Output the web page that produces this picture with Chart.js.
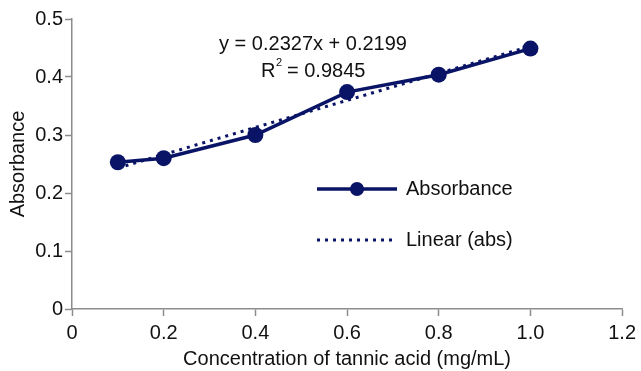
<!DOCTYPE html>
<html>
<head>
<meta charset="utf-8">
<script src="https://cdn.jsdelivr.net/npm/chart.js@4"></script>
<style>
  html, body { margin: 0; padding: 0; background: #fff; }
  #wrap { width: 641px; height: 371px; }
</style>
</head>
<body>
<div id="wrap"><canvas id="chart"></canvas></div>
<script>
const concentration = [0.1, 0.2, 0.4, 0.6, 0.8, 1.0];
const absorbance = [0.253, 0.260, 0.300, 0.374, 0.404, 0.449];
// trendline ends
const trendX = [0.1, 1.0];
const trendY = [0.243, 0.453];
const xTicks = ["0", "0.2", "0.4", "0.6", "0.8", "1.0", "1.2"];
const yTicks = ["0", "0.1", "0.2", "0.3", "0.4", "0.5"];

const navy = "#0a1466";
const axisGrey = "#8c8c8c";
const font = "Liberation Sans";
const fs = 20;

// equation text + legend drawn inside the plot
const extras = {
  id: "extras",
  afterDraw(chart) {
    const ctx = chart.ctx;
    ctx.save();
    ctx.fillStyle = "#111";
    ctx.font = fs + "px '" + font + "'";
    ctx.textBaseline = "middle";
    ctx.textAlign = "center";
    ctx.fillText("y = 0.2327x + 0.2199", 313, 44);
    ctx.textAlign = "left";
    ctx.fillText("R", 261, 71);
    ctx.font = "11px '" + font + "'";
    ctx.fillText("2", 276, 63);
    ctx.font = fs + "px '" + font + "'";
    ctx.fillText("= 0.9845", 287, 71);

    // legend
    ctx.strokeStyle = navy;
    ctx.lineWidth = 3.5;
    ctx.beginPath();
    ctx.moveTo(317, 189);
    ctx.lineTo(397, 189);
    ctx.stroke();
    ctx.fillStyle = navy;
    ctx.beginPath();
    ctx.arc(357, 189, 7, 0, Math.PI * 2);
    ctx.fill();
    ctx.lineWidth = 3;
    ctx.setLineDash([3, 5]);
    ctx.beginPath();
    ctx.moveTo(317, 240);
    ctx.lineTo(392, 240);
    ctx.stroke();
    ctx.setLineDash([]);
    ctx.fillStyle = "#111";
    ctx.fillText("Absorbance", 406, 189);
    ctx.fillText("Linear (abs)", 406, 240);
    ctx.restore();
  }
};

new Chart(document.getElementById("chart"), {
  type: "line",
  data: {
    datasets: [
      {
        label: "Absorbance",
        data: concentration.map((x, i) => ({ x: x, y: absorbance[i] })),
        borderColor: navy,
        backgroundColor: navy,
        borderWidth: 3.5,
        pointRadius: 8,
        pointBorderWidth: 0,
        tension: 0,
      },
      {
        label: "Linear (abs)",
        data: trendX.map((x, i) => ({ x: x, y: trendY[i] })),
        borderColor: navy,
        borderWidth: 3,
        borderDash: [3, 5],
        pointRadius: 0,
      },
    ],
  },
  options: {
    responsive: true,
    maintainAspectRatio: false,
    animation: false,
    layout: { padding: { top: 19, right: 16, left: 0, bottom: 0 } },
    plugins: { legend: { display: false }, tooltip: { enabled: false } },
    scales: {
      x: {
        type: "linear",
        min: 0,
        max: 1.2,
        afterBuildTicks: (s) => { s.ticks = xTicks.map((t) => ({ value: parseFloat(t) })); },
        afterFit: (s) => { s.height = 62; },
        ticks: {
          callback: (v, i) => xTicks[i],
          color: "#111",
          font: { family: font, size: fs },
          padding: 5,
          maxRotation: 0,
        },
        grid: { drawOnChartArea: false, tickLength: 7, tickColor: axisGrey, tickWidth: 1.5 },
        border: { color: axisGrey, width: 1.5 },
        title: {
          display: true,
          text: "Concentration of tannic acid (mg/mL)",
          color: "#111",
          font: { family: font, size: fs },
          padding: { top: 0, bottom: 0 },
        },
      },
      y: {
        min: 0,
        max: 0.5,
        afterBuildTicks: (s) => { s.ticks = yTicks.map((t) => ({ value: parseFloat(t) })); },
        afterFit: (s) => { s.width = 72; },
        ticks: {
          callback: (v, i) => yTicks[i],
          color: "#111",
          font: { family: font, size: fs },
          padding: 2,
        },
        grid: { drawOnChartArea: false, tickLength: 7, tickColor: axisGrey, tickWidth: 1.5 },
        border: { color: axisGrey, width: 1.5 },
        title: {
          display: true,
          text: "Absorbance",
          color: "#111",
          font: { family: font, size: fs },
          padding: { top: 6, bottom: 0 },
        },
      },
    },
  },
  plugins: [extras],
});
</script>
</body>
</html>
